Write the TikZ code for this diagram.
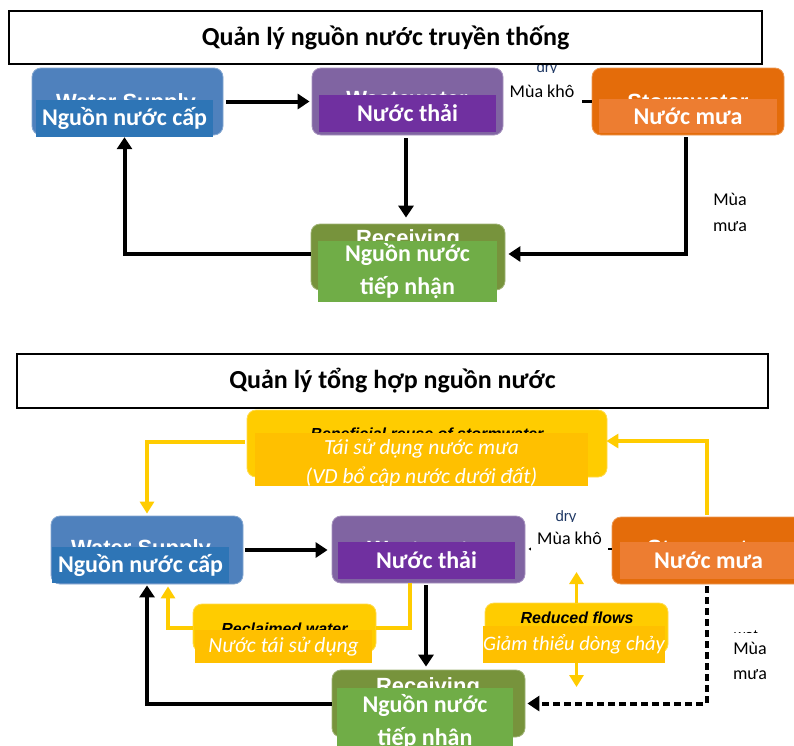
\documentclass[tikz,border=0pt]{standalone}
\usepackage{fontspec}
\setmainfont{Carlito}
\newfontfamily\enfont{Liberation Sans}
\usetikzlibrary{arrows.meta}

\definecolor{wsbox}{HTML}{4F81BD}
\definecolor{wsfill}{HTML}{2E75B6}
\definecolor{wwbox}{HTML}{8064A2}
\definecolor{wwfill}{HTML}{7030A0}
\definecolor{swbox}{HTML}{E46C0A}
\definecolor{swfill}{HTML}{ED7D31}
\definecolor{rvbox}{HTML}{77933C}
\definecolor{rvfill}{HTML}{70AD47}
\definecolor{ybox}{HTML}{FFCC00}
\definecolor{yfill}{HTML}{FFC000}
\definecolor{drynavy}{HTML}{1F3864}

\begin{document}
\begin{tikzpicture}[x=1pt,y=-1pt,
  card/.style={rounded corners=9pt, inner sep=0pt, fill=#1, draw=#1!70!white, line width=0.8pt},
  vn/.style={fill=#1, inner sep=0pt, text=white, align=center, font=\fontsize{24}{33}\selectfont\bfseries},
  vni/.style={fill=yfill, inner sep=0pt, text=white, align=center, font=\fontsize{21.5}{29}\selectfont\itshape},
  en/.style={anchor=base, inner sep=0pt, text=white, font=\enfont\bfseries\fontsize{22}{26}\selectfont},
  eny/.style={anchor=base, inner sep=0pt, text=black, font=\enfont\bfseries\itshape\fontsize{16}{19}\selectfont},
  season/.style={inner sep=0pt, align=center, font=\fontsize{18}{25}\selectfont},
  seasonword/.style={anchor=base, inner sep=0pt, text=drynavy, font=\enfont\fontsize{15}{18}\selectfont},
  titlebox/.style={draw=black, fill=white, line width=1.3pt, inner sep=0pt, font=\fontsize{26}{30}\selectfont\bfseries},
  flow/.style={line width=4pt, -{Triangle[length=12pt,width=15pt]}},
  wetflow/.style={flow, dash pattern=on 7pt off 4pt},
  dryflow/.style={line width=2.5pt, dash pattern=on 10pt off 5pt},
  reuse/.style={draw=ybox, line width=3.5pt},
  reusearr/.style={reuse, -{Triangle[length=12pt,width=14pt]}},
]
\clip (0,0) rectangle (794,745);
\fill[white] (0,0) rectangle (794,745);

% ===================== traditional management =====================
\node[seasonword] (dryA) at (547,72) {dry};
\node[titlebox, minimum width=753pt, minimum height=53pt] (titleA) at (385.5,37.5)
  {Quản lý nguồn nước truyền thống};

% water supply
\node[card=wsbox, minimum width=191pt, minimum height=67pt] (wsA) at (127.5,101.5) {};
\node[en] (wsAen) at (126,109) {Water Supply};
\node[vn=wsfill, minimum width=177pt, minimum height=37pt] (wsAv) at (124.5,118.5) {Nguồn nước cấp};

% wastewater
\node[card=wwbox, minimum width=191pt, minimum height=67pt] (wwA) at (407.5,101.5) {};
\node[en] (wwAen) at (407,106) {Wastewater};
\node[vn=wwfill, minimum width=177pt, minimum height=37pt] (wwAv) at (407.5,113.5) {Nước thải};

% stormwater
\node[card=swbox, minimum width=192pt, minimum height=67pt] (swA) at (688,101.5) {};
\node[en] (swAen) at (688,109) {Stormwater};
\node[vn=swfill, minimum width=178pt, minimum height=34pt] (swAv) at (688,116) {Nước mưa};

% receiving waters
\node[card=rvbox, minimum width=194pt, minimum height=66pt] (rvA) at (408,257) {};
\node[en] (rvAen) at (408,245) {Receiving};
\node[vn=rvfill, minimum width=179pt, minimum height=61pt] (rvAv) at (407.5,271.5) {Nguồn nước\\tiếp nhận};

% flows
\draw[flow, shorten <=3pt, shorten >=2pt] (wsA.east) -- (wsA.east -| wwA.west);
\draw[flow, shorten <=3pt, shorten >=6pt] ([xshift=-1.5pt]wwA.south) -- ([xshift=-1.5pt]wwA.south |- rvA.north);
\draw[flow] ([yshift=3pt]rvA.west) -| (wsAv.south);
\draw[flow, shorten <=2pt, shorten >=3pt] ([xshift=-2pt]swA.south) |- ([yshift=3pt]rvA.east);
\draw[dryflow] (swA.west) -- (swA.west -| wwA.east);
\node[season, fill=white, minimum width=76pt, minimum height=37pt] (dryAlbl) at (542,91.5) {Mùa khô};
\node[season, font=\fontsize{18}{26}\selectfont] (wetAlbl) at (730,212) {Mùa\\mưa};

% ===================== integrated management =====================
\node[titlebox, minimum width=751pt, minimum height=54pt] (titleB) at (392.5,381)
  {Quản lý tổng hợp nguồn nước};

% beneficial reuse of stormwater
\node[card=ybox, minimum width=360pt, minimum height=67pt] (ben) at (427,443.5) {};
\node[eny] (benen) at (427,439) {Beneficial reuse of stormwater};
\node[vni, minimum width=333pt, minimum height=53pt] (benv) at (421.5,459.5) {};
\node[vni, fill=none] (benvt) at (421.5,463)
  {Tái sử dụng nước mưa\\(VD bổ cập nước dưới đất)};

% water supply
\node[card=wsbox, minimum width=192pt, minimum height=68pt] (wsB) at (147,550) {};
\node[en] (wsBen) at (141,555) {Water Supply};
\node[vn=wsfill, minimum width=177pt, minimum height=36pt] (wsBv) at (140.5,565) {Nguồn nước cấp};

% wastewater
\node[card=wwbox, minimum width=193pt, minimum height=67pt] (wwB) at (428.5,549.5) {};
\node[en] (wwBen) at (428,556) {Wastewater};
\node[vn=wwfill, minimum width=177pt, minimum height=37pt] (wwBv) at (426.5,560.5) {Nước thải};

% stormwater
\node[card=swbox, minimum width=193pt, minimum height=67pt] (swB) at (708.5,550.5) {};
\node[en] (swBen) at (708,555) {Stormwater};
\node[vn=swfill, minimum width=177pt, minimum height=37pt] (swBv) at (708.5,560.5) {Nước mưa};

% receiving waters
\node[card=rvbox, minimum width=193pt, minimum height=67pt] (rvB) at (428.5,703.5) {};
\node[en] (rvBen) at (428,693) {Receiving};
\node[vn=rvfill, minimum width=176pt, minimum height=68pt] (rvBv) at (425,722) {Nguồn nước\\tiếp nhận};

% reclaimed water
\node[card=ybox, minimum width=183pt, minimum height=48pt] (rc) at (284.5,628) {};
\node[eny] (rcen) at (284.5,634) {Reclaimed water};
\node[vni, minimum width=177pt, minimum height=33pt] (rcv) at (283.5,646.5) {Nước tái sử dụng};

% reduced flows
\node[card=ybox, minimum width=183pt, minimum height=50pt] (rd) at (576.5,628) {};
\node[eny] (rden) at (577,623) {Reduced flows};
\node[vni, font=\fontsize{20.5}{26}\selectfont\itshape, minimum width=182pt, minimum height=37pt] (rdv) at (574,644.5) {Giảm thiểu dòng chảy};
\coordinate (rdup) at (576.5,572);
\coordinate (rddn) at (576.5,687);

% flows
\draw[flow, shorten <=2pt, shorten >=4pt] (wsB.east) -- (wsB.east -| wwB.west);
\draw[flow, shorten <=2pt, shorten >=3pt] ([xshift=-2.5pt]wwB.south) -- ([xshift=-2.5pt]wwB.south |- rvB.north);
\draw[flow, shorten >=1pt] (rvB.west) -| (wsB.south);
\draw[wetflow, shorten <=2pt, shorten >=2pt] ([xshift=-1.5pt]swB.south) |- (rvB.east);
\draw[dryflow, -{Triangle[length=7pt,width=8pt]}, shorten >=3pt] ([yshift=1.5pt]swB.west) -- ([yshift=1.5pt]swB.west -| wwB.east);

% reuse paths
\draw[reusearr, shorten <=2pt, shorten >=-1pt] ([xshift=-1.5pt]swB.north) |- ([yshift=2.5pt]ben.east);
\draw[reusearr, shorten <=2pt, shorten >=2pt] ([yshift=1.5pt]ben.west) -| (wsB.north);
\draw[reuse] ([xshift=-18.5pt]wwB.south) |- (rc.east);
\draw[reusearr, shorten >=2pt] (rc.west) -| ([xshift=21pt]wsB.south);
\draw[reusearr] (rd.north) -- (rdup);
\draw[reusearr] (rd.south |- rdv.south) -- (rddn);

% season labels
\node[seasonword] (dryB) at (566,521) {dry};
\node[season, fill=white, minimum width=77pt, minimum height=33pt] (dryBlbl) at (569.5,538.5) {Mùa khô};
\node[seasonword, text=black] (wetB) at (746,640) {wet};
\node[season, fill=white, minimum width=44pt, minimum height=56pt] (wetBlbl) at (750,661) {Mùa\\mưa};

\end{tikzpicture}
\end{document}
